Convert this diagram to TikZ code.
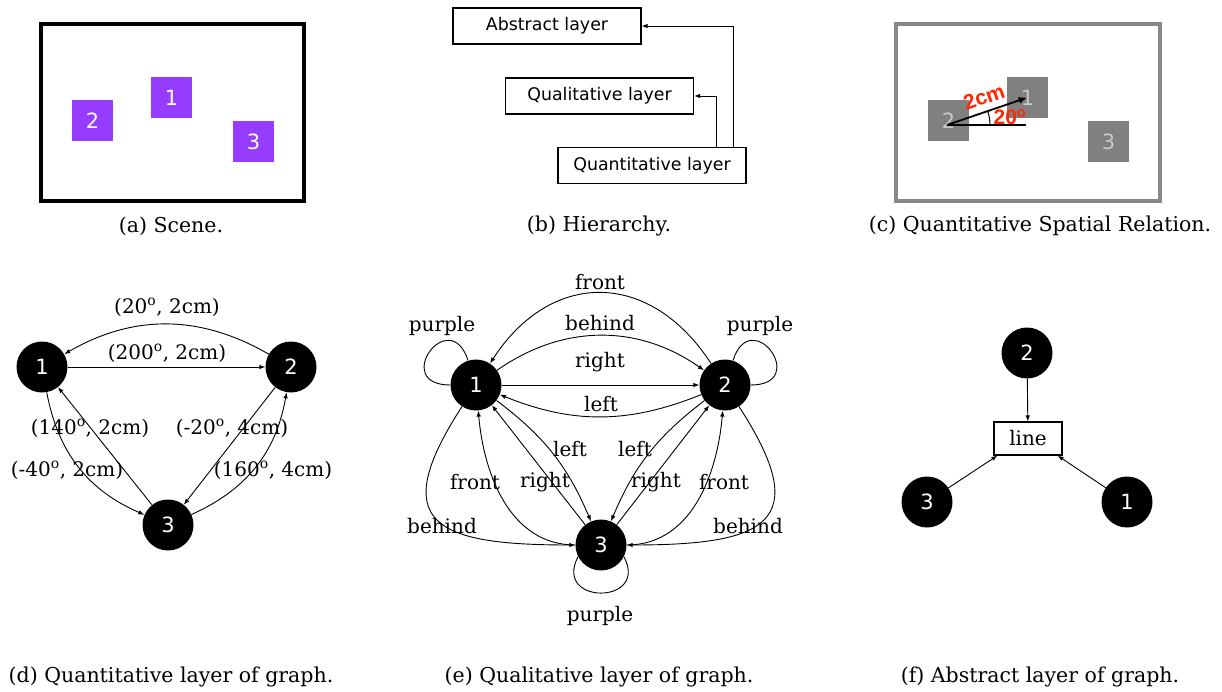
\documentclass[tikz,border=0pt]{standalone}
\usepackage{fontspec}
\usetikzlibrary{arrows.meta}
\newfontfamily\capfont{DejaVu Serif}
\newfontfamily\numfont{DejaVu Sans}
\newfontfamily\redfont{Liberation Sans}
\definecolor{scenepurple}{RGB}{150,60,255}
\definecolor{relred}{RGB}{255,40,0}
\definecolor{framegray}{RGB}{136,136,136}
\definecolor{objgray}{RGB}{128,128,128}
\definecolor{digitgray}{RGB}{200,200,200}
\newcommand\dg{\textsuperscript{o}}
\tikzset{
  captext/.style={font=\capfont\fontsize{20.5}{24}\selectfont, inner sep=0pt},
  lbl/.style={font=\capfont\fontsize{20}{24}\selectfont, inner sep=0pt},
  gnode/.style={circle, fill=black, minimum size=51pt, inner sep=0pt, text=white,
    font=\numfont\fontsize{21}{24}\selectfont},
  obj/.style={minimum size=41pt, inner sep=0pt, font=\numfont\fontsize{21}{24}\selectfont},
  layerbox/.style={draw, line width=1.2pt, minimum width=188pt, minimum height=36pt,
    inner sep=0pt, font=\numfont\fontsize{17.4}{20}\selectfont},
  edge/.style={line width=0.9pt, -{Latex[length=6pt,width=4.5pt]}},
  loopline/.style={line width=0.9pt},
  redlbl/.style={text=relred, inner sep=0pt, font=\redfont\bfseries\fontsize{21}{24}\selectfont},
}
\begin{document}
\begin{tikzpicture}[x=1pt,y=1pt]
\useasboundingbox (0,0) rectangle (1222,-692);

% (a) scene
\draw[line width=4pt] (40.5,-24.5) rectangle (303.5,-201.5);
\node[obj, fill=scenepurple, text=white] (a1) at (171.5,-97.5) {1};
\node[obj, fill=scenepurple, text=white] (a2) at (92.5,-120.5) {2};
\node[obj, fill=scenepurple, text=white] (a3) at (253.5,-141.5) {3};
\node[captext] (capa) at (171,-226) {(a) Scene.};

% (b) hierarchy
\node[layerbox] (abs) at (547,-26) {Abstract layer};
\node[layerbox] (qual) at (599.5,-96) {Qualitative layer};
\node[layerbox] (quant) at (652,-165.5) {Quantitative layer};
\draw[edge] ([xshift=81pt]quant.north) |- (abs.east);
\draw[edge] ([xshift=64pt]quant.north) |- (qual.east);
\node[captext] (capb) at (599,-226) {(b) Hierarchy.};

% (c) quantitative spatial relation
\draw[framegray, line width=4pt] (895.5,-24.5) rectangle (1159.5,-201.5);
\node[obj, fill=objgray, text=digitgray] (c1) at (1027.5,-97.5) {1};
\node[obj, fill=objgray, text=digitgray] (c2) at (948.5,-120.5) {2};
\node[obj, fill=objgray, text=digitgray] (c3) at (1108.5,-141.5) {3};
\coordinate (o) at ([xshift=-1.5pt,yshift=-4.5pt]c2.center);
\draw[line width=1.5pt] (o) -- ++(79,0);
\draw[line width=1.8pt, -{Latex[length=9pt,width=7pt]}] (o) -- (c1.center);
\draw[line width=1pt] ([xshift=43pt]o) arc (0:19.3:43);
\node[redlbl, rotate=19.3] (dist) at (984,-97) {2cm};
\node[redlbl] (ang) at (1010,-117) {20\dg};
\node[captext] (capc) at (1040,-226) {(c) Quantitative Spatial Relation.};

% (d) quantitative layer
\node[gnode] (d1) at (42,-367) {1};
\node[gnode] (d2) at (291,-367) {2};
\node[gnode] (d3) at (168,-525) {3};
\draw[edge] (d1) -- (d2);
\draw[edge] (d2) to[bend right=30] (d1);
\draw[edge] (d3) -- (d1);
\draw[edge] (d1) to[bend right=28] (d3);
\draw[edge] (d2) -- (d3);
\draw[edge] (d3) to[bend right=28] (d2);
\node[lbl] at (167,-307) {(20\dg, 2cm)};
\node[lbl] at (167,-353) {(200\dg, 2cm)};
\node[lbl] at (90,-428) {(140\dg, 2cm)};
\node[lbl] at (232,-428) {(-20\dg, 4cm)};
\node[lbl] at (67,-470) {(-40\dg, 2cm)};
\node[lbl] at (273,-470) {(160\dg, 4cm)};
\node[captext] (capd) at (171,-677) {(d) Quantitative layer of graph.};

% (e) qualitative layer
\node[gnode] (e1) at (476,-385) {1};
\node[gnode] (e2) at (725,-385) {2};
\node[gnode] (e3) at (601,-545) {3};
\draw[edge] (e1) -- (e2);
\draw[edge] (e2) to[bend left=22] (e1);
\draw[edge] (e1) to[bend left=35] (e2);
\draw[edge] (e2) to[out=123,in=57,looseness=1.3] (e1);
\draw[loopline] (e1.108) .. controls +(108:60) and +(180:60) .. (e1.180);
\draw[loopline] (e2.72) .. controls +(72:60) and +(0:60) .. (e2.0);
\draw[loopline] (e3.-153) .. controls +(-118:55) and +(-62:55) .. (e3.-27);
\draw[edge] (e3) -- (e1);
\draw[edge] (e1) to[bend left=15] (e3);
\draw[edge] (e3) to[out=180,in=-85] (e1);
\draw[edge] (e1) to[out=-123,in=180,looseness=2] (e3);
\draw[edge] (e3) -- (e2);
\draw[edge] (e2) to[bend right=15] (e3);
\draw[edge] (e3) to[out=0,in=-95] (e2);
\draw[edge] (e2) to[out=-57,in=0,looseness=2] (e3);
\node[lbl] at (600,-282) {front};
\node[lbl] at (600,-323) {behind};
\node[lbl] at (600,-362) {right};
\node[lbl] at (601,-404) {left};
\node[lbl] at (442,-326) {purple};
\node[lbl] at (760,-326) {purple};
\node[lbl] at (600,-616) {purple};
\node[lbl] at (570,-449) {left};
\node[lbl] at (635,-449) {left};
\node[lbl] at (475,-482) {front};
\node[lbl] at (545,-482) {right};
\node[lbl] at (656,-482) {right};
\node[lbl] at (724,-482) {front};
\node[lbl] at (442,-526) {behind};
\node[lbl] at (748,-526) {behind};
\node[captext] (cape) at (599,-677) {(e) Qualitative layer of graph.};

% (f) abstract layer
\node[gnode] (f2) at (1027,-353) {2};
\node[draw, line width=1.2pt, minimum width=68pt, minimum height=33pt, inner sep=0pt,
  font=\capfont\fontsize{20}{24}\selectfont] (fl) at (1028,-438.5) {line};
\node[gnode] (f3) at (927,-502) {3};
\node[gnode] (f1) at (1127,-502) {1};
\draw[edge] (f2) -- (fl);
\draw[edge] (f3) -- ([xshift=4pt]fl.south west);
\draw[edge] (f1) -- ([xshift=-5pt]fl.south east);
\node[captext] (capf) at (1040,-677) {(f) Abstract layer of graph.};
\end{tikzpicture}
\end{document}
